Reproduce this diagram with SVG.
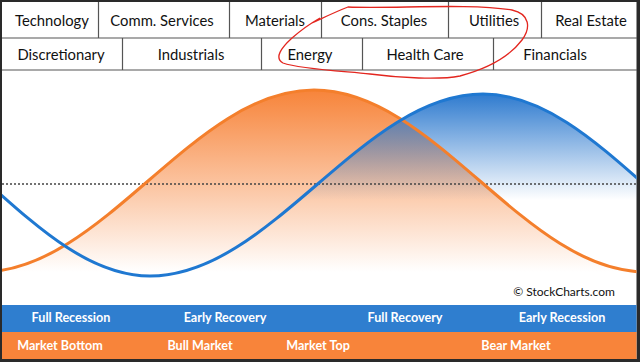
<svg xmlns="http://www.w3.org/2000/svg" width="640" height="362" viewBox="0 0 640 362">
<style>
.hdr{font-family:Lato,"Liberation Sans",sans-serif;font-size:14.8px;fill:#111;text-anchor:middle}
.band{font-family:Lato,"Liberation Sans",sans-serif;font-size:12.6px;font-weight:bold;fill:#fff;text-anchor:middle}
.grid{stroke:#555;stroke-width:1.2;fill:none}
</style>
<defs>
<linearGradient id="gOrange" gradientUnits="userSpaceOnUse" x1="0" y1="90" x2="0" y2="272">
<stop offset="0" stop-color="#F7843A" stop-opacity="1"/>
<stop offset="1" stop-color="#F7843A" stop-opacity="0"/>
</linearGradient>
<linearGradient id="gBlue" gradientUnits="userSpaceOnUse" x1="0" y1="94" x2="0" y2="200">
<stop offset="0" stop-color="#2F7BCF" stop-opacity="1"/>
<stop offset="1" stop-color="#2F7BCF" stop-opacity="0"/>
</linearGradient>
<clipPath id="chartClip"><rect x="2" y="71" width="634.5" height="234"/></clipPath>
</defs>
<rect x="0" y="0" width="640" height="362" fill="#2a2a2a"/>
<rect x="2" y="2" width="634.5" height="357" fill="#fff"/>

<g id="chart" clip-path="url(#chartClip)">
<path d="M -18 272 C 103 272 193 90 314 90 C 435 90 525 272 646 272 L 646 310 L -18 310 Z" fill="url(#gOrange)"/>
<path d="M -170 94 C -53.5 94 33.5 276 150 276 C 271 276 362 94 483 94 C 601 94 689 276 807 276 L 807 310 L -170 310 Z" fill="url(#gBlue)"/>
<line x1="2" y1="184" x2="637" y2="184" stroke="#444" stroke-width="1.5" stroke-dasharray="2,2"/>
<path d="M -18 272 C 103 272 193 90 314 90 C 435 90 525 272 646 272" fill="none" stroke="#F47F2C" stroke-width="3"/>
<path d="M -170 94 C -53.5 94 33.5 276 150 276 C 271 276 362 94 483 94 C 601 94 689 276 807 276" fill="none" stroke="#1F78D1" stroke-width="3"/>
</g>
<text x="564" y="296" font-family="Lato,'Liberation Sans',sans-serif" font-size="12" fill="#111" text-anchor="middle">© StockCharts.com</text>

<g id="grid-lines">
<line class="grid" x1="2" y1="38" x2="637" y2="38"/>
<line class="grid" x1="2" y1="70" x2="637" y2="70"/>
</g>
<g id="cell-technology"><text class="hdr" x="52" y="26">Technology</text></g>
<g id="cell-comm"><line class="grid" x1="98.5" y1="2" x2="98.5" y2="38"/><text class="hdr" x="162" y="26">Comm. Services</text></g>
<g id="cell-materials"><line class="grid" x1="229.5" y1="2" x2="229.5" y2="38"/><text class="hdr" x="275" y="26">Materials</text></g>
<g id="cell-staples"><line class="grid" x1="321.5" y1="2" x2="321.5" y2="38"/><text class="hdr" x="384" y="26">Cons. Staples</text></g>
<g id="cell-utilities"><line class="grid" x1="448.5" y1="2" x2="448.5" y2="38"/><text class="hdr" x="494" y="26">Utilities</text></g>
<g id="cell-realestate"><line class="grid" x1="541.5" y1="2" x2="541.5" y2="38"/><text class="hdr" x="591" y="26">Real Estate</text></g>
<g id="cell-discretionary"><text class="hdr" x="61" y="60">Discretionary</text></g>
<g id="cell-industrials"><line class="grid" x1="122.5" y1="38" x2="122.5" y2="70"/><text class="hdr" x="191" y="60">Industrials</text></g>
<g id="cell-energy"><line class="grid" x1="261.5" y1="38" x2="261.5" y2="70"/><text class="hdr" x="310" y="60">Energy</text></g>
<g id="cell-healthcare"><line class="grid" x1="362.5" y1="38" x2="362.5" y2="70"/><text class="hdr" x="425" y="60">Health Care</text></g>
<g id="cell-financials"><line class="grid" x1="493.5" y1="38" x2="493.5" y2="70"/><text class="hdr" x="555" y="60">Financials</text></g>

<g id="highlight">
<path d="M 312 23 C 325 17 335 12 348 7 C 390 9 470 3 512 10 C 530 14 531 28 522 40 C 510 56 490 68 460 76 C 440 80 400 78 370 74 C 340 71 300 69 283 63 C 274 58 281 48 292 38 C 300 31 306 26 320 18" fill="none" stroke="#E3261F" stroke-width="1.3"/>
</g>

<g id="economy-band">
<rect x="2" y="305" width="634.5" height="27" fill="#2F7ECF"/>
<text class="band" x="71" y="322">Full Recession</text>
<text class="band" x="225" y="322">Early Recovery</text>
<text class="band" x="405" y="322">Full Recovery</text>
<text class="band" x="562" y="322">Early Recession</text>
</g>
<g id="market-band">
<rect x="2" y="332" width="634.5" height="27" fill="#F8843A"/>
<text class="band" x="60" y="350">Market Bottom</text>
<text class="band" x="200" y="350">Bull Market</text>
<text class="band" x="318" y="350">Market Top</text>
<text class="band" x="516" y="350">Bear Market</text>
</g>
</svg>
